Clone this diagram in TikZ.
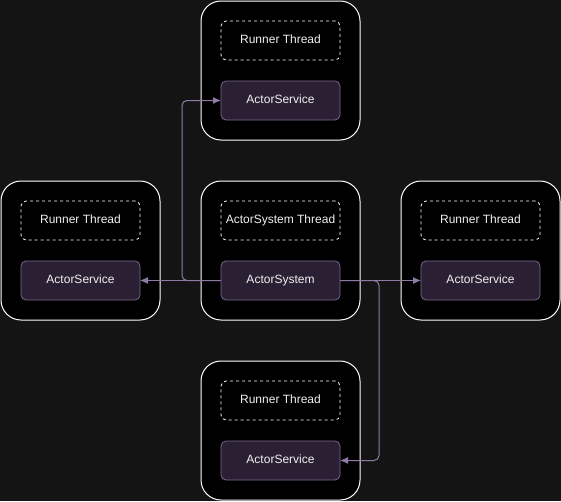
\documentclass[tikz,border=0pt]{standalone}
\usepackage{fontspec}
\setmainfont{Liberation Sans}
\usetikzlibrary{arrows.meta}
\definecolor{bg}{HTML}{141414}
\definecolor{svcfill}{HTML}{2B2033}
\definecolor{svcborder}{HTML}{7A6890}
\definecolor{linec}{HTML}{8E7BA5}
\definecolor{txt}{HTML}{F0F0F0}
\begin{document}
\begin{tikzpicture}[x=1pt,y=-1pt,
  container/.style={draw=white, fill=black, rounded corners=20pt, minimum width=159pt, minimum height=139pt, line width=1pt, outer sep=0pt},
  thread/.style={draw=white, dash pattern=on 3pt off 3pt, rounded corners=5pt, minimum width=119pt, minimum height=39pt, text=txt, font=\fontsize{12}{14}\selectfont, text height=8.5pt, text depth=2.5pt, line width=0.8pt, outer sep=0pt},
  service/.style={draw=svcborder, fill=svcfill, rounded corners=5pt, minimum width=119pt, minimum height=39pt, text=txt, font=\fontsize{12}{14}\selectfont, text height=8.5pt, text depth=2.5pt, line width=0.8pt, outer sep=0pt},
  conn/.style={draw=linec, line width=1pt, -{Latex[length=8pt,width=7pt]}, rounded corners=5pt}]
\fill[bg] (0,0) rectangle (561,501);
\useasboundingbox (0,0) rectangle (561,501);
% containers
\node[container] (tc) at (280.5,70.5) {};
\node[container] (lc) at (80.5,250.5) {};
\node[container] (cc) at (280.5,250.5) {};
\node[container] (rc) at (480.5,250.5) {};
\node[container] (bc) at (280.5,430.5) {};
% threads
\node[thread] (tt) at (280.5,40.5) {Runner Thread};
\node[thread] (lt) at (80.5,220.5) {Runner Thread};
\node[thread] (ct) at (280.5,220.5) {ActorSystem Thread};
\node[thread] (rt) at (480.5,220.5) {Runner Thread};
\node[thread] (bt) at (280.5,400.5) {Runner Thread};
% services
\node[service] (ts) at (280.5,100.5) {ActorService};
\node[service] (ls) at (80.5,280.5) {ActorService};
\node[service] (sys) at (280.5,280.5) {ActorSystem};
\node[service] (rs) at (480.5,280.5) {ActorService};
\node[service] (bs) at (280.5,460.5) {ActorService};
% connectors
\draw[conn] (sys.west) -- (ls.east);
\draw[conn] (sys.east) -- (rs.west);
\draw[conn] (sys.west) -- ++(-39,0) |- (ts.west);
\draw[conn] (sys.east) -- ++(39,0) |- (bs.east);
\end{tikzpicture}
\end{document}
